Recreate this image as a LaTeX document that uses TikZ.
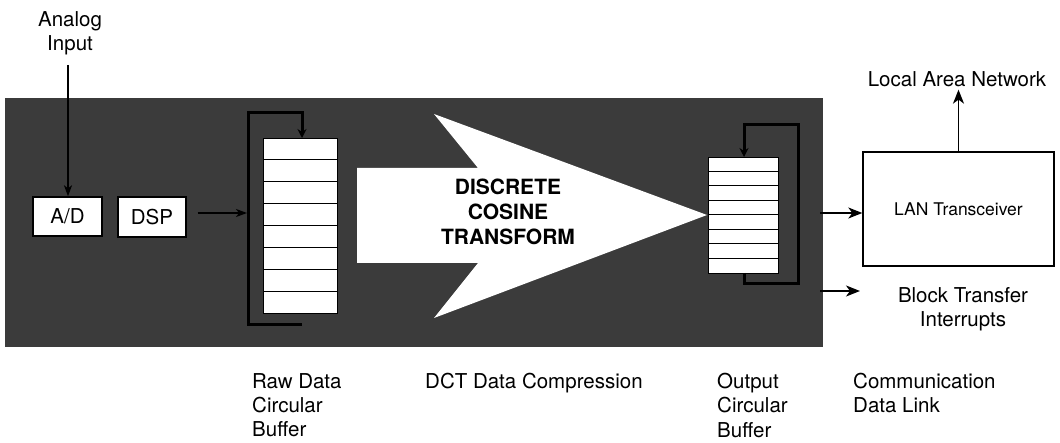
\documentclass[tikz,border=0pt]{standalone}
\usepackage{fontspec}
\setmainfont{TeX Gyre Heros}
\usetikzlibrary{arrows.meta}
\begin{document}
\begin{tikzpicture}[x=1pt,y=-1pt,
  lbl/.style={font=\fontsize{20.5}{24.3}\selectfont, inner sep=0pt},
  wbox/.style={draw=black, fill=white, line width=1.4pt, inner sep=0pt, font=\fontsize{20.5}{24.5}\selectfont},
  cellbox/.style={draw=black, fill=white, line width=1pt, inner sep=0pt},
  cellline/.style={line width=1pt},
  conn/.style={line width=1.5pt, -{Stealth[length=14pt,width=11pt,inset=4pt]}},
  smallconn/.style={line width=1.5pt, -{Stealth[length=11pt,width=8pt,inset=3pt]}},
  looppath/.style={line width=3pt, -{Stealth[length=9pt,width=9pt]}},
]
\useasboundingbox (0,0) rectangle (1060,443);

% dark panel
\node[fill=black!77, minimum width=818pt, minimum height=249pt, inner sep=0pt, anchor=north west] (panel) at (5,98) {};

% input boxes
\node[wbox, minimum width=69pt, minimum height=39pt] (ad) at (67.5,216.5) {A/D};
\node[wbox, minimum width=68pt, minimum height=40pt] (dsp) at (152,217) {DSP};

% analog input
\node[lbl, align=center, anchor=north] (ain) at (70,11) {Analog\\Input};
\coordinate (ainstart) at (68,65);
\draw[smallconn] (ainstart) -- (ad.north -| ainstart);

% raw data circular buffer
\node[cellbox, minimum width=74pt, minimum height=175pt, anchor=north west] (raw) at (263,138) {};
\foreach \i in {1,...,7} {
  \draw[cellline] (263,138+\i*21.875) -- (337,138+\i*21.875);
}
\draw[looppath] (302,325) -- (248,325) -- (248,113) -- (302,113) -- (raw.north -| 302,0);
\coordinate (rawin) at (247,213);
\draw[smallconn] ([xshift=11pt]dsp.east |- rawin) -- (rawin);

% big DCT arrow
\draw[fill=white, draw=none] (357,168) -- (478,168) -- (434,114) -- (707,215)
  -- (434,318) -- (478,263) -- (357,263) -- cycle;
\node[font=\fontsize{21}{25}\selectfont\bfseries, align=center, inner sep=0pt] (dct) at (508,212) {DISCRETE\\COSINE\\TRANSFORM};

% output circular buffer
\node[cellbox, minimum width=70pt, minimum height=116pt, anchor=north west] (outb) at (708,157) {};
\foreach \i in {1,...,7} {
  \draw[cellline] (708,157+\i*14.5) -- (778,157+\i*14.5);
}
\draw[looppath] (744,273) -- (744,284) -- (798,284) -- (798,125) -- (744,125) -- (outb.north -| 744,0);

% LAN transceiver
\node[wbox, minimum width=191pt, minimum height=114pt, font=\fontsize{17.5}{21}\selectfont] (lan) at (958.5,209) {LAN Transceiver};
\coordinate (o1) at (820,213);
\draw[conn] (o1) -- (lan.west |- o1);
\coordinate (o2) at (820,291);
\coordinate (o2end) at (860,291);
\draw[conn] (o2) -- (o2end);
\node[lbl, anchor=north] (lanlbl) at (957,71) {Local Area Network};
\draw[conn] (lan.north) -- ([yshift=-3pt]lanlbl.south -| lan.north);
\node[lbl, align=center, anchor=north] (blk) at (963,287) {Block Transfer\\Interrupts};

% bottom labels
\node[lbl, align=left, anchor=north west] (l1) at (252,373) {Raw Data\\Circular\\Buffer};
\node[lbl, align=left, anchor=north west] (l2) at (425,373) {DCT Data Compression};
\node[lbl, align=left, anchor=north west] (l3) at (717,373) {Output\\Circular\\Buffer};
\node[lbl, align=left, anchor=north west] (l4) at (853,373) {Communication\\Data Link};
\end{tikzpicture}
\end{document}
